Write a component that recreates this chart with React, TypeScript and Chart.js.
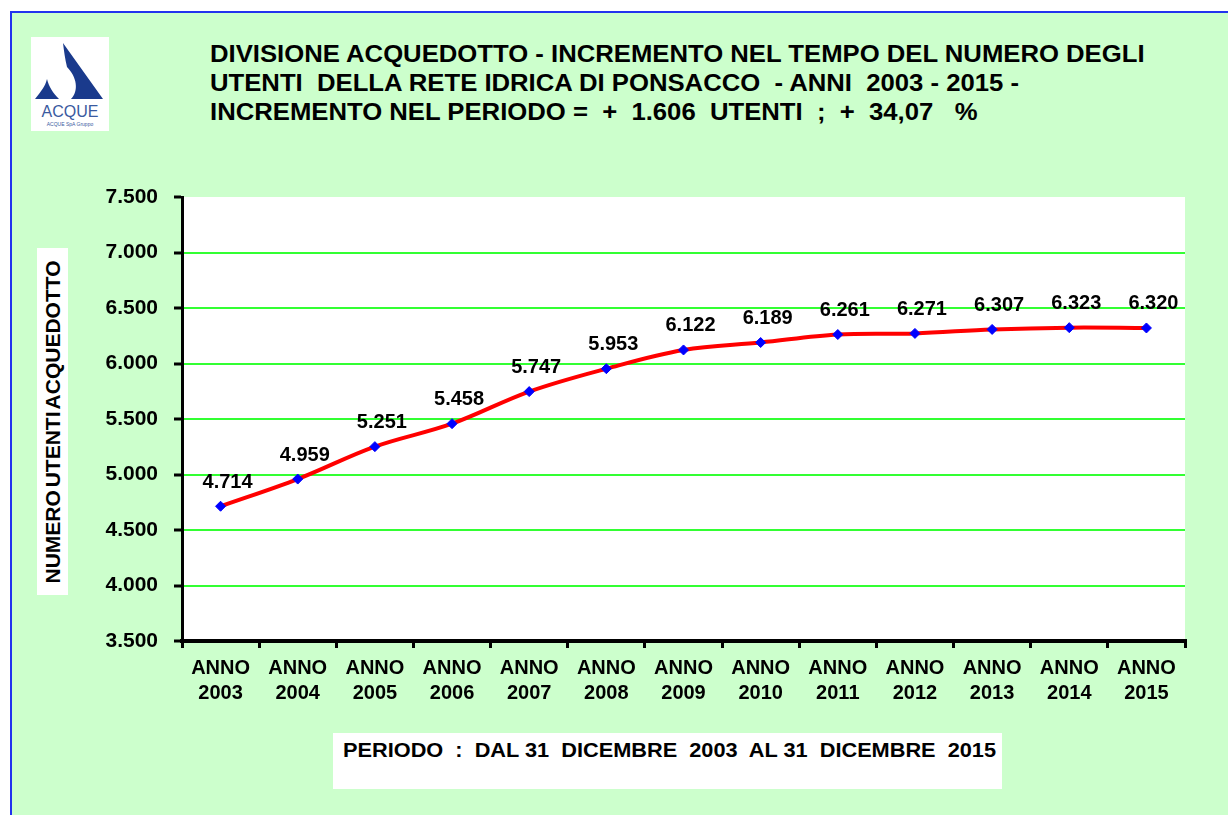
import React, { useEffect, useRef } from "react";
import { Chart, registerables } from "chart.js";

Chart.register(...registerables);

const years = ["2003", "2004", "2005", "2006", "2007", "2008", "2009", "2010", "2011", "2012", "2013", "2014", "2015"];
const utenti = [4714, 4959, 5251, 5458, 5747, 5953, 6122, 6189, 6261, 6271, 6307, 6323, 6320];
const yMin = 3500;
const yMax = 7500;
const yStep = 500;

const titleLines = [
  "DIVISIONE ACQUEDOTTO - INCREMENTO NEL TEMPO DEL NUMERO DEGLI",
  "UTENTI  DELLA RETE IDRICA DI PONSACCO  - ANNI  2003 - 2015 -",
  "INCREMENTO NEL PERIODO =  +  1.606  UTENTI  ;  +  34,07   %",
];
const yAxisTitle = "NUMERO UTENTI ACQUEDOTTO";
const periodText = "PERIODO  :  DAL 31  DICEMBRE  2003  AL 31  DICEMBRE  2015";

const FONT = "'Liberation Sans', Arial, sans-serif";

const fmt = (v: number) => String(v).replace(/\B(?=(\d{3})+(?!\d))/g, ".");

const plotBg = {
  id: "plotBg",
  beforeDraw(chart: any) {
    const { ctx, chartArea } = chart;
    ctx.save();
    ctx.fillStyle = "#ffffff";
    ctx.fillRect(chartArea.left, chartArea.top, chartArea.right - chartArea.left, chartArea.bottom - chartArea.top);
    ctx.restore();
  },
};

const valueLabels = {
  id: "valueLabels",
  afterDatasetsDraw(chart: any) {
    const { ctx } = chart;
    const meta = chart.getDatasetMeta(0);
    const data = chart.data.datasets[0].data as number[];
    ctx.save();
    ctx.font = `bold 20px ${FONT}`;
    ctx.fillStyle = "#000000";
    ctx.textAlign = "center";
    ctx.textBaseline = "middle";
    meta.data.forEach((pt: any, i: number) => {
      ctx.fillText(fmt(data[i]), pt.x + 7, pt.y - 24);
    });
    ctx.restore();
  },
};

export default function App() {
  const ref = useRef<HTMLCanvasElement | null>(null);

  useEffect(() => {
    if (!ref.current) return;
    const chart = new Chart(ref.current, {
      type: "line",
      data: {
        labels: years.map((y) => ["ANNO", y]),
        datasets: [
          {
            data: utenti,
            borderColor: "#ff0000",
            borderWidth: 4,
            tension: 0.35,
            pointStyle: "rectRot",
            pointRadius: 5,
            pointBackgroundColor: "#0000ff",
            pointBorderColor: "#0000ff",
            pointBorderWidth: 1,
          },
        ],
      },
      options: {
        animation: false,
        responsive: false,
        maintainAspectRatio: false,
        layout: { padding: { left: 0, right: 43, top: 197, bottom: 74 } },
        plugins: { legend: { display: false }, tooltip: { enabled: false }, title: { display: false } },
        scales: {
          x: {
            offset: true,
            afterFit: (s: any) => {
              s.height = 100;
            },
            grid: {
              display: true,
              offset: true,
              drawOnChartArea: false,
              drawTicks: true,
              tickLength: 7,
              color: "#000000",
              lineWidth: 3,
            },
            border: { display: true, color: "#000000", width: 4 },
            ticks: {
              color: "#000000",
              font: { family: FONT, size: 20, weight: "bold", lineHeight: 1.25 },
              padding: 8,
              maxRotation: 0,
              autoSkip: false,
            },
          },
          y: {
            min: yMin,
            max: yMax,
            afterFit: (s: any) => {
              s.width = 182;
            },
            grid: {
              color: (c: any) => (c.tick && (c.tick.value === yMin || c.tick.value === yMax) ? "rgba(0,0,0,0)" : "#33ff33"),
              lineWidth: 2,
              drawTicks: true,
              tickLength: 8,
              tickColor: "#000000",
              tickWidth: 3,
            },
            border: { display: true, color: "#000000", width: 3 },
            ticks: {
              stepSize: yStep,
              color: "#000000",
              font: { family: FONT, size: 21, weight: "bold" },
              padding: 16,
              callback: (v: any) => fmt(Number(v)),
            },
          },
        },
      },
      plugins: [plotBg, valueLabels],
    });
    return () => chart.destroy();
  }, []);

  return (
    <div style={{ position: "fixed", left: 0, top: 0, width: 1228, height: 815, overflow: "hidden", background: "#ffffff", fontFamily: FONT }}>
      <div
        style={{
          position: "absolute",
          left: 10,
          top: 11,
          width: 1240,
          height: 830,
          background: "#ccffcc",
          borderTop: "2px solid #2233ee",
          borderLeft: "2px solid #2233ee",
        }}
      />
      {/* logo */}
      <div style={{ position: "absolute", left: 31, top: 37, width: 78, height: 94, background: "#ffffff" }}>
        <svg width="78" height="94" viewBox="0 0 78 94">
          <path d="M32 6 L72 62 L40 62 C48 54 46 40 36 30 C34 22 33 14 32 6 Z" fill="#1a3a8c" />
          <path d="M4 62 C10 54 14 50 16 42 C18 50 22 56 28 62 Z" fill="#1a3a8c" />
          <text x="39" y="80" textAnchor="middle" fontFamily={FONT} fontSize="16" fill="#3a5aa0">ACQUE</text>
          <text x="39" y="89" textAnchor="middle" fontFamily={FONT} fontSize="5" fill="#3a5aa0">ACQUE SpA Gruppo</text>
        </svg>
      </div>
      {/* title */}
      <div
        style={{
          position: "absolute",
          left: 210,
          top: 39,
          fontSize: 24,
          lineHeight: "29px",
          fontWeight: "bold",
          color: "#000000",
          whiteSpace: "pre",
          transform: "scaleX(1.07)",
          transformOrigin: "left top",
        }}
      >
        {titleLines.map((l, i) => (
          <div key={i}>{l}</div>
        ))}
      </div>
      {/* y-axis title */}
      <div style={{ position: "absolute", left: 37, top: 248, width: 31, height: 347, background: "#ffffff" }}>
        <div
          style={{
            position: "absolute",
            left: 16,
            top: 174,
            transform: "translate(-50%, -50%) rotate(-90deg)",
            whiteSpace: "pre",
            fontSize: 21,
            fontWeight: "bold",
            wordSpacing: "-3px",
            color: "#000000",
          }}
        >
          {yAxisTitle}
        </div>
      </div>
      {/* period box */}
      <div
        style={{
          position: "absolute",
          left: 333,
          top: 733,
          width: 669,
          height: 56,
          background: "#ffffff",
        }}
      >
        <div
          style={{
            position: "absolute",
            left: 10,
            top: 5,
            fontSize: 21,
            lineHeight: "24px",
            fontWeight: "bold",
            whiteSpace: "pre",
            color: "#000000",
            transform: "scaleX(1.035)",
            transformOrigin: "left top",
          }}
        >
          {periodText}
        </div>
      </div>
      <canvas ref={ref} width={1228} height={815} style={{ position: "absolute", left: 0, top: 0, width: 1228, height: 815 }} />
    </div>
  );
}
